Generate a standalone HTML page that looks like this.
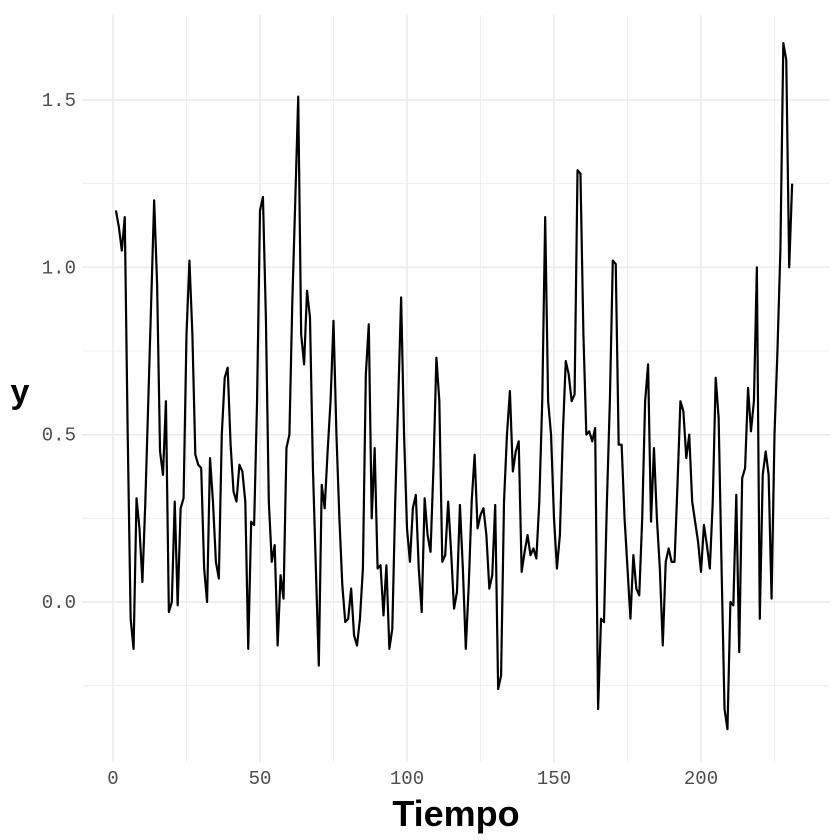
<!DOCTYPE html>
<html><head><meta charset="utf-8">
<style>
html,body{margin:0;padding:0;background:#fff;}
svg{display:block;}
.tick{font-family:"Liberation Mono",monospace;font-size:19px;fill:#4d4d4d;}
.title{font-family:"Liberation Sans",sans-serif;font-weight:bold;fill:#000;}
</style></head>
<body>
<svg id="chart" width="840" height="840" viewBox="0 0 840 840" xmlns="http://www.w3.org/2000/svg">
<g id="grid"></g>
<g id="axes"></g>
<path id="series" fill="none" stroke="#000" stroke-width="2.2" stroke-linejoin="round"></path>
<text class="title" x="456" y="826" font-size="36" text-anchor="middle">Tiempo</text>
<text class="title" x="20" y="403" font-size="34" text-anchor="middle">y</text>
</svg>
<script>
const yValues = [1.17,1.12,1.05,1.15,0.5,-0.05,-0.14,0.31,0.22,0.06,0.3,0.6,0.9,1.2,0.95,0.45,0.38,0.6,-0.03,0.0,
0.3,-0.01,0.28,0.31,0.8,1.02,0.8,0.44,0.41,0.4,0.1,0.0,0.43,0.3,0.12,0.07,0.5,0.67,0.7,0.47,
0.33,0.3,0.41,0.39,0.3,-0.14,0.24,0.23,0.6,1.17,1.21,0.85,0.3,0.12,0.17,-0.13,0.08,0.01,0.46,0.5,
0.9,1.2,1.51,0.8,0.71,0.93,0.85,0.4,0.1,-0.19,0.35,0.28,0.45,0.6,0.84,0.5,0.25,0.05,-0.06,-0.05,
0.04,-0.1,-0.13,-0.05,0.1,0.68,0.83,0.25,0.46,0.1,0.11,-0.04,0.11,-0.14,-0.08,0.3,0.6,0.91,0.5,0.22,
0.12,0.28,0.32,0.1,-0.03,0.31,0.2,0.15,0.4,0.73,0.6,0.12,0.14,0.3,0.15,-0.02,0.03,0.29,0.1,-0.14,
0.05,0.3,0.44,0.22,0.26,0.28,0.2,0.04,0.08,0.29,-0.26,-0.22,0.3,0.5,0.63,0.39,0.45,0.48,0.09,0.15,
0.2,0.14,0.16,0.13,0.3,0.6,1.15,0.6,0.5,0.25,0.1,0.2,0.5,0.72,0.68,0.6,0.62,1.29,1.28,0.8,
0.5,0.51,0.48,0.52,-0.32,-0.05,-0.06,0.3,0.6,1.02,1.01,0.47,0.47,0.25,0.1,-0.05,0.14,0.04,0.02,0.25,
0.6,0.71,0.24,0.46,0.25,0.1,-0.13,0.12,0.16,0.12,0.12,0.35,0.6,0.57,0.43,0.5,0.3,0.24,0.18,0.09,
0.23,0.17,0.1,0.3,0.67,0.55,0.1,-0.32,-0.38,0.0,-0.01,0.32,-0.15,0.37,0.4,0.64,0.51,0.6,1.0,-0.05,
0.38,0.45,0.38,0.01,0.5,0.75,1.05,1.67,1.62,1.0,1.25];
const xTicks = [0,50,100,150,200];
const xMinor = [25,75,125,175,225];
const yTicks = [0.0,0.5,1.0,1.5];
const yTickLabels = ["0.0","0.5","1.0","1.5"];
const yMinor = [-0.25,0.25,0.75,1.25];

const X = t => 113 + 2.94 * t;
const Y = v => 602 - 334.7 * v;
const NS = "http://www.w3.org/2000/svg";
const grid = document.getElementById('grid');
const axes = document.getElementById('axes');
const L = 82, R = 830, T = 15, B = 762;
function line(x1,y1,x2,y2,w){
  const l = document.createElementNS(NS,'line');
  l.setAttribute('x1',x1);l.setAttribute('y1',y1);l.setAttribute('x2',x2);l.setAttribute('y2',y2);
  l.setAttribute('stroke','#ebebeb');l.setAttribute('stroke-width',w);
  grid.appendChild(l);return l;
}
yMinor.forEach(v=>{const l=line(L,Y(v),R,Y(v),0.8);

});
xMinor.forEach(v=>{const l=line(X(v),T,X(v),B,0.8);

});
yTicks.forEach((v,i)=>{const l=line(L,Y(v),R,Y(v),1.5);


const t=document.createElementNS(NS,'text');
t.setAttribute('class','tick');t.setAttribute('x',76);t.setAttribute('y',Y(v)+6);t.setAttribute('text-anchor','end');
t.textContent=yTickLabels[i];


axes.appendChild(t);});
xTicks.forEach(v=>{const l=line(X(v),T,X(v),B,1.5);


const t=document.createElementNS(NS,'text');
t.setAttribute('class','tick');t.setAttribute('x',X(v));t.setAttribute('y',784);t.setAttribute('text-anchor','middle');
t.textContent=String(v);


axes.appendChild(t);});
document.getElementById('series').setAttribute('d',
  yValues.map((v,i)=>(i?'L':'M')+X(i+1).toFixed(2)+','+Y(v).toFixed(2)).join(''));
</script>
</body></html>
